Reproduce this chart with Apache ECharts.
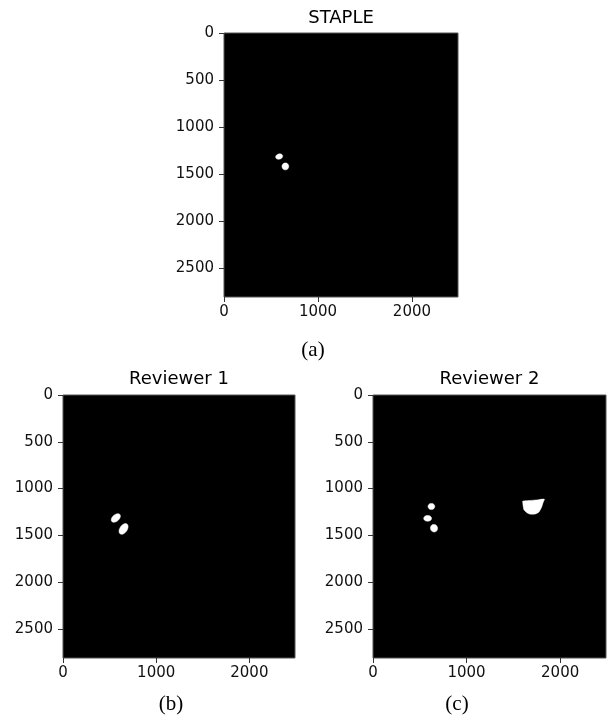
<!DOCTYPE html>
<html><head><meta charset="utf-8">
<script src="https://cdn.jsdelivr.net/npm/echarts@6/dist/echarts.min.js"></script>
<style>html,body{margin:0;padding:0;background:#fff}#c{width:607px;height:715px}</style>
</head><body><div id="c"></div>
<script>
// ---- data ----
const panelTitles = ['STAPLE', 'Reviewer 1', 'Reviewer 2'];
const panelCaptions = ['(a)', '(b)', '(c)'];
const imageWidth = 2490;
const imageHeight = 2810;
const xTickValues = [0, 1000, 2000];
const yTickValues = [0, 500, 1000, 1500, 2000, 2500];
// elliptical blobs: [centerX, centerY, radiusX, radiusY, angleDeg] in image pixel coords
const stapleBlobs = [[587, 1315, 38, 28, -15], [653, 1420, 36, 37, 0]];
const reviewer1Blobs = [[567, 1314, 57, 35, -40], [650, 1431, 64, 39, -55]];
const reviewer2Blobs = [[624, 1191, 36, 33, 0], [584, 1318, 42, 31, 0], [652, 1423, 38, 41, -20]];
// large lesion outline (Reviewer 2), image pixel coords
const reviewer2Lesion = [[1600, 1135], [1678, 1127], [1753, 1121], [1831, 1113], [1817, 1151], [1803, 1196],
  [1774, 1249], [1742, 1269], [1713, 1274], [1672, 1272], [1642, 1256], [1613, 1226], [1606, 1196], [1601, 1156]];

// ---- build ----
function ellipseOutline(b) {
  const [cx, cy, rx, ry, a] = b;
  const A = a * Math.PI / 180, pts = [];
  for (let i = 0; i < 40; i++) {
    const t = i / 40 * 2 * Math.PI;
    pts.push([cx + rx * Math.cos(t) * Math.cos(A) - ry * Math.sin(t) * Math.sin(A),
              cy + rx * Math.cos(t) * Math.sin(A) + ry * Math.sin(t) * Math.cos(A)]);
  }
  return pts;
}
const panelShapes = [
  stapleBlobs.map(ellipseOutline),
  reviewer1Blobs.map(ellipseOutline),
  reviewer2Blobs.map(ellipseOutline).concat([reviewer2Lesion])
];
const grids = [
  {left: 224, top: 33, width: 234, height: 264},
  {left: 63, top: 395, width: 232, height: 263},
  {left: 373, top: 395, width: 233, height: 263}
];
const font = 'DejaVu Sans';
const fmt = v => String(v);
const option = {
  animation: false,
  backgroundColor: '#fff',
  grid: grids.map(g => Object.assign({show: true, backgroundColor: '#000', borderColor: '#555', borderWidth: 1}, g)),
  xAxis: grids.map((g, i) => ({
    type: 'value', gridIndex: i, min: 0, max: imageWidth, position: 'bottom',
    splitLine: {show: false}, axisLine: {show: false, onZero: false},
    axisTick: {show: true, inside: false, length: 5, lineStyle: {color: '#333'}, customValues: xTickValues},
    axisLabel: {customValues: xTickValues, formatter: fmt, color: '#111', fontFamily: font, fontSize: 15, margin: 8}
  })),
  yAxis: grids.map((g, i) => ({
    type: 'value', gridIndex: i, min: 0, max: imageHeight, inverse: true, position: 'left',
    splitLine: {show: false}, axisLine: {show: false, onZero: false},
    axisTick: {show: true, inside: false, length: 5, lineStyle: {color: '#333'}, customValues: yTickValues},
    axisLabel: {customValues: yTickValues, formatter: fmt, color: '#111', fontFamily: font, fontSize: 15, margin: 10}
  })),
  series: panelShapes.map((shapes, i) => ({
    type: 'custom', xAxisIndex: i, yAxisIndex: i, clip: true,
    data: shapes.map(s => s[0]),
    renderItem: function (params, api) {
      const pts = shapes[params.dataIndex].map(p => api.coord(p));
      return {type: 'polygon', shape: {points: pts, smooth: 0.2}, style: {fill: '#fff', stroke: '#fff', lineWidth: 0.5}};
    }
  })),
  graphic: panelTitles.map((t, i) => ({
    type: 'text', x: grids[i].left + grids[i].width / 2, y: i === 0 ? 18 : 379,
    style: {text: t, font: '18px "DejaVu Sans"', fill: '#000', textAlign: 'center', textVerticalAlign: 'middle'}
  })).concat(panelCaptions.map((t, i) => ({
    type: 'text', x: [313, 171, 457][i], y: [350, 704, 704][i],
    style: {text: t, font: '21px "Liberation Serif"', fill: '#000', textAlign: 'center', textVerticalAlign: 'middle'}
  })))
};
const chart = echarts.init(document.getElementById('c'), null, {renderer: 'canvas'});
chart.setOption(option);
</script>
</body></html>
